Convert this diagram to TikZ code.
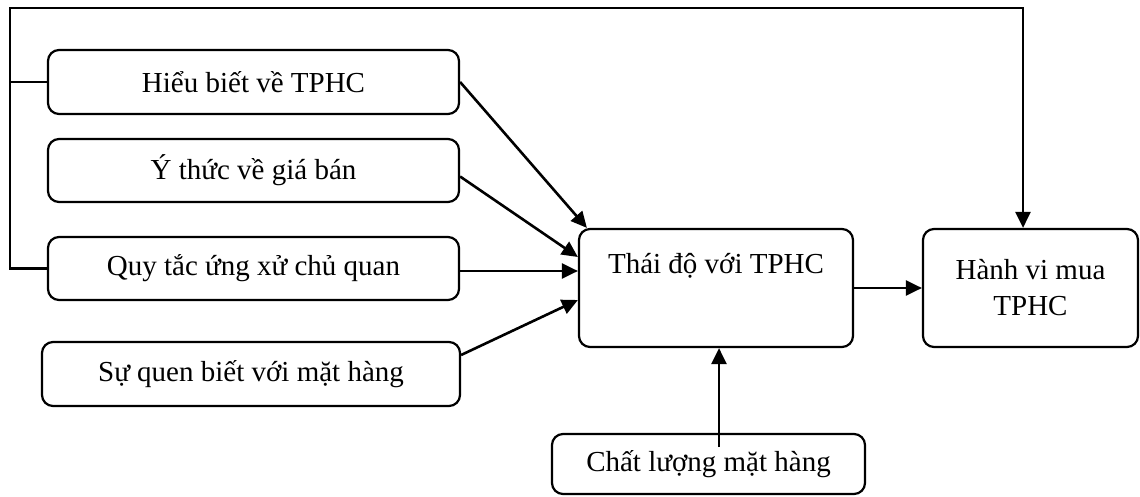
\documentclass[tikz,border=0pt]{standalone}
\usepackage{fontspec}
\setmainfont{Liberation Serif}
\usetikzlibrary{arrows.meta}
\begin{document}
\begin{tikzpicture}[x=1pt,y=-1pt,
  every node/.style={font=\fontsize{29}{36}\selectfont},
  box/.style={draw,line width=2.2pt,rounded corners=11pt,inner sep=0pt,align=center},
  conn/.style={line width=2.6pt},
  arr/.style={conn,-{Triangle[length=16pt,width=15pt]}}]
\useasboundingbox (0,0) rectangle (1140,497);
\node[box,minimum width=411pt,minimum height=64pt] (h) at (253.5,82) {Hiểu biết về TPHC};
\node[box,minimum width=411pt,minimum height=63pt] (y) at (253.5,170.5) {Ý thức về giá bán};
\node[box,minimum width=411pt,minimum height=63pt] (q) at (253.5,268.5) {Quy tắc ứng xử chủ quan};
\node[box,minimum width=418pt,minimum height=64pt] (s) at (251,374) {Sự quen biết với mặt hàng};
\node[box,minimum width=274pt,minimum height=118pt] (t) at (716,288) {Thái độ với TPHC\\[2pt]\strut};
\node[box,minimum width=215pt,minimum height=118pt] (hv) at (1030.5,288) {Hành vi mua\\TPHC};
\node[box,minimum width=313pt,minimum height=60pt] (c) at (708.5,464) {Chất lượng mặt hàng};
\coordinate (tl) at (10,8);
\coordinate (cs) at (719,447);
% feedback line
\draw[arr,line join=miter] (q.west) -| (tl) -| ([xshift=-7.5pt]hv.north);
\draw[conn] (h.west) -- (h.west -| tl);
% inputs
\draw[arr] (h.east) -- ([xshift=9pt]t.north west);
\draw[arr] ([yshift=-6pt]y.east) -- ([yshift=31pt]t.west);
\draw[arr] ([yshift=-2.5pt]q.east) -- ([yshift=17pt]t.west);
\draw[arr] ([yshift=19pt]s.east) -- ([yshift=-12pt]t.west);
\draw[arr] (t.east) -- (hv.west);
\draw[arr] (cs) -- (cs |- t.south);
\end{tikzpicture}
\end{document}
